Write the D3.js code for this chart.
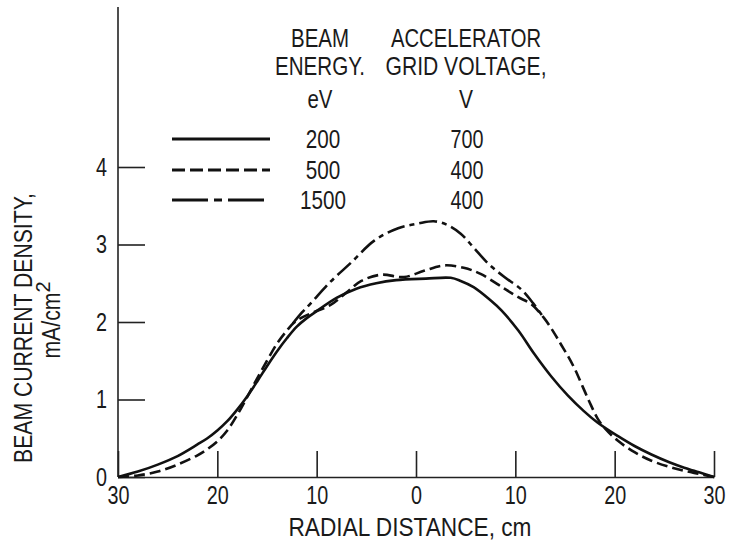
<!DOCTYPE html>
<html>
<head>
<meta charset="utf-8">
<script src="https://cdn.jsdelivr.net/npm/d3@7"></script>
<style>
  html, body { margin: 0; padding: 0; background: #fff; }
  svg { display: block; }
  text { font-family: "Liberation Sans Narrow", "Arial Narrow", "Liberation Sans", "DejaVu Sans", sans-serif; fill: #1a1a1a; }
</style>
</head>
<body>
<svg id="chart" width="731" height="555"></svg>
<script>
// ---- data ----
const xTicks = [-30, -20, -10, 0, 10, 20, 30];
const yTicks = [0, 1, 2, 3, 4];
const energies = ["200", "500", "1500"];
const voltages = ["700", "400", "400"];

// radial distance (cm, left side negative), beam current density (mA/cm^2)
const solid200 = [[-30,0],[-28,0.07],[-26,0.16],[-24,0.27],[-22,0.42],[-21,0.5],[-20,0.6],[-19,0.72],[-18,0.87],[-17,1.04],[-16,1.23],[-15,1.43],[-14,1.62],[-13,1.79],[-12,1.94],[-11,2.05],[-10,2.14],[-8,2.31],[-6,2.43],[-4,2.5],[-2,2.54],[1,2.56],[3.5,2.57],[4.5,2.53],[5.8,2.45],[7.5,2.28],[8.6,2.15],[10.3,1.89],[11.9,1.59],[13.6,1.3],[15.3,1.05],[16.9,0.85],[18.3,0.7],[20.3,0.53],[22,0.4],[23.7,0.29],[25.5,0.19],[27,0.12],[28.5,0.06],[30,0]];
const dashed500 = [[-30,0],[-28,0.02],[-26,0.07],[-24,0.16],[-22,0.28],[-21,0.36],[-20,0.46],[-19,0.6],[-18,0.8],[-17,1.03],[-16,1.27],[-15,1.5],[-14,1.72],[-13,1.89],[-12.3,1.99],[-11.6,2.05],[-10.6,2.11],[-8.6,2.22],[-7,2.38],[-5.5,2.53],[-3.5,2.61],[-1.2,2.58],[0.8,2.66],[2.8,2.73],[4.8,2.7],[6.5,2.62],[8.9,2.43],[10.3,2.32],[11.6,2.23],[12.9,2.05],[13.9,1.86],[14.6,1.71],[15.3,1.56],[16,1.39],[16.8,1.16],[17.6,0.93],[18.3,0.75],[19,0.63],[20.3,0.47],[22,0.32],[23.7,0.21],[25.5,0.13],[27,0.08],[28.5,0.04],[30,0]];
const dashdot1500 = [[-12.4,1.98],[-11.5,2.12],[-10.6,2.24],[-8.6,2.52],[-6.5,2.77],[-4.2,3.05],[-1.8,3.21],[0.2,3.27],[1.8,3.3],[3.2,3.25],[4.5,3.14],[5.8,2.96],[7.3,2.75],[8.9,2.58],[10.6,2.42],[11.8,2.24],[12.9,2.05]];

const series = [
  { data: solid200, dash: null },
  { data: dashed500, dash: "11,5" },
  { data: dashdot1500, dash: "18,5,5,5" }
];
const legendDash = [null, "13,5", "36,6,8,6"];

// ---- drawing ----
const svg = d3.select("#chart");
const x = d3.scaleLinear().domain([-30, 30]).range([118, 714]);
const y = d3.scaleLinear().domain([0, 4]).range([477, 167]);
const FONT = 25;
const CHAR_W = 11; // narrow glyph width for digits

// y axis
const gy = svg.append("g").attr("transform", "translate(118,0)")
  .call(d3.axisLeft(y).tickValues(yTicks).tickSizeInner(-27).tickSizeOuter(0).tickPadding(11).tickFormat(d3.format("d")));
gy.select(".domain").remove();
gy.selectAll(".tick line").attr("stroke", "#222").attr("stroke-width", 1.6);
gy.selectAll(".tick text").attr("font-size", FONT).attr("fill", "#1a1a1a").attr("font-family", null)
  .attr("textLength", CHAR_W).attr("lengthAdjust", "spacingAndGlyphs");
svg.append("line").attr("x1", 118).attr("x2", 118).attr("y1", 7).attr("y2", y(0))
  .attr("stroke", "#222").attr("stroke-width", 1.6);

// x axis
const gx = svg.append("g").attr("transform", `translate(0,${y(0)})`)
  .call(d3.axisBottom(x).tickValues(xTicks).tickSizeInner(-26).tickSizeOuter(0).tickPadding(9).tickFormat(d => Math.abs(d)));
gx.select(".domain").attr("stroke", "#222").attr("stroke-width", 1.6);
gx.selectAll(".tick line").attr("stroke", "#222").attr("stroke-width", 1.6);
gx.selectAll(".tick text").attr("font-size", FONT).attr("fill", "#1a1a1a").attr("font-family", null)
  .attr("textLength", d => CHAR_W * String(Math.abs(d)).length).attr("lengthAdjust", "spacingAndGlyphs");

// axis titles
svg.append("text").attr("x", 410).attr("y", 536).attr("text-anchor", "middle")
  .attr("font-size", FONT).attr("textLength", 243).attr("lengthAdjust", "spacingAndGlyphs")
  .text("RADIAL DISTANCE, cm");

svg.append("text").attr("transform", "translate(32,328) rotate(-90)")
  .attr("text-anchor", "middle").attr("font-size", FONT)
  .attr("textLength", 270).attr("lengthAdjust", "spacingAndGlyphs")
  .text("BEAM CURRENT DENSITY,");
const yt2 = svg.append("text").attr("transform", "translate(60,320) rotate(-90)")
  .attr("text-anchor", "middle").attr("font-size", FONT);
yt2.append("tspan").attr("textLength", 66).attr("lengthAdjust", "spacingAndGlyphs").text("mA/cm");
yt2.append("tspan").attr("dy", -10).attr("font-size", 20).text("2");

// curves
const line = d3.line().x(d => x(d[0])).y(d => y(d[1])).curve(d3.curveCatmullRom.alpha(0.5));
series.forEach(s => {
  svg.append("path").datum(s.data).attr("d", line)
    .attr("fill", "none").attr("stroke", "#111").attr("stroke-width", 2.6)
    .attr("stroke-linejoin", "round")
    .attr("stroke-dasharray", s.dash);
});

// legend
const hdrL = ["BEAM", "ENERGY.", "eV"];
const hdrLW = [58, 90, 25];
const hdrR = ["ACCELERATOR", "GRID VOLTAGE,", "V"];
const hdrRW = [150, 161, 14];
const hdrY = [47, 75, 108];
hdrL.forEach((t, i) => svg.append("text").attr("x", 320).attr("y", hdrY[i])
  .attr("text-anchor", "middle").attr("font-size", 25)
  .attr("textLength", hdrLW[i]).attr("lengthAdjust", "spacingAndGlyphs").text(t));
hdrR.forEach((t, i) => svg.append("text").attr("x", 466).attr("y", hdrY[i])
  .attr("text-anchor", "middle").attr("font-size", 25)
  .attr("textLength", hdrRW[i]).attr("lengthAdjust", "spacingAndGlyphs").text(t));
const rowY = [139, 170, 200];
energies.forEach((e, i) => {
  svg.append("line").attr("x1", 172).attr("x2", 270).attr("y1", rowY[i]).attr("y2", rowY[i])
    .attr("stroke", "#111").attr("stroke-width", 3).attr("stroke-dasharray", legendDash[i]);
  svg.append("text").attr("x", 323).attr("y", rowY[i] + 9).attr("text-anchor", "middle")
    .attr("font-size", 25).attr("textLength", 11.5 * e.length).attr("lengthAdjust", "spacingAndGlyphs").text(e);
  svg.append("text").attr("x", 467).attr("y", rowY[i] + 9).attr("text-anchor", "middle")
    .attr("font-size", 25).attr("textLength", 11 * voltages[i].length).attr("lengthAdjust", "spacingAndGlyphs").text(voltages[i]);
});
</script>
</body>
</html>
